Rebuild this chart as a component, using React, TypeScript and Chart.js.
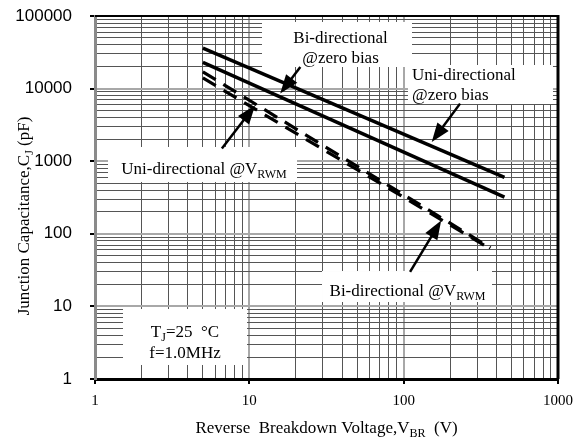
import React, { useEffect, useRef } from "react";
import { Chart, registerables } from "chart.js";

Chart.register(...registerables);

// ---- data ----
const uniZeroV = [5, 450];
const uniZeroC = [36000, 600];
const biZeroV = [5, 450];
const biZeroC = [23000, 320];
const uniRwmV = [5, 365];
const uniRwmC = [17000, 64];
const biRwmV = [5, 365];
const biRwmC = [14000, 62];

const xTickValues = [1, 10, 100, 1000];
const xTickLabels = ["1", "10", "100", "1000"];
const yTickValues = [1, 10, 100, 1000, 10000, 100000];
const yTickLabels = ["1", "10", "100", "1000", "10000", "100000"];

const SERIF = '"Liberation Serif", "Times New Roman", serif';
const SANS = '"Liberation Sans", Arial, sans-serif';
const FS = 17;

type Seg = { t: string; sub?: boolean };

// annotation labels: anchor in data units (x, y = baseline of first line)
const labels: {
  x: number; y: number; align: "left" | "center";
  lines: Seg[][]; box: [number, number, number, number]; lh: number;
}[] = [
  { x: 38.97, y: 42070, align: "center", lh: 20,
    lines: [[{ t: "Bi-directional" }], [{ t: "@zero bias" }]],
    box: [-78.5, -21.3, 150, 45] },
  { x: 113.2, y: 13345, align: "left", lh: 20,
    lines: [[{ t: "Uni-directional" }], [{ t: "@zero bias" }]],
    box: [-4, -14.5, 145, 39] },
  { x: 5.086, y: 666.6, align: "center", lh: 20,
    lines: [[{ t: "Uni-directional @V" }, { t: "RWM", sub: true }]],
    box: [-96, -27, 189, 35] },
  { x: 105.9, y: 13.9, align: "center", lh: 20,
    lines: [[{ t: "Bi-directional @V" }, { t: "RWM", sub: true }]],
    box: [-85.5, -25, 170, 31] },
  { x: 3.83, y: 3.79, align: "center", lh: 21,
    lines: [[{ t: "T" }, { t: "J", sub: true }, { t: "=25  \u00B0C" }], [{ t: "f=1.0MHz" }]],
    box: [-62, -28, 124, 56] },
];

// arrows: tail -> tip in data units
const arrows: { x0: number; y0: number; x1: number; y1: number }[] = [
  { x0: 6.64, y0: 1493, x1: 10.9, y1: 5890 },
  { x0: 21.4, y0: 19840, x1: 15.85, y1: 8530 },
  { x0: 232, y0: 6210, x1: 152, y1: 1838 },
  { x0: 110, y0: 29.8, x1: 175, y1: 153 },
];

function logGrid(min: number, max: number): number[] {
  const out: number[] = [];
  for (let d = min; d < max; d *= 10) {
    for (let m = 1; m <= 9; m++) out.push(Math.round(d * m * 1000) / 1000);
  }
  out.push(max);
  return out;
}

function isDecade(v: number): boolean {
  const l = Math.log10(v);
  return Math.abs(l - Math.round(l)) < 1e-9;
}

function segFont(s: Seg, size: number) {
  return `${s.sub ? Math.round(size * 0.72) : size}px ${SERIF}`;
}

function segsWidth(ctx: CanvasRenderingContext2D, segs: Seg[], size: number) {
  let w = 0;
  for (const s of segs) {
    ctx.font = segFont(s, size);
    w += ctx.measureText(s.t).width;
  }
  return w;
}

function drawSegs(ctx: CanvasRenderingContext2D, segs: Seg[], x: number, y: number,
  size: number, align: "left" | "center") {
  const w = segsWidth(ctx, segs, size);
  let cx = align === "center" ? x - w / 2 : x;
  ctx.textAlign = "left";
  ctx.textBaseline = "alphabetic";
  for (const s of segs) {
    ctx.font = segFont(s, size);
    ctx.fillText(s.t, cx, y + (s.sub ? size * 0.25 : 0));
    cx += ctx.measureText(s.t).width;
  }
}

function drawArrow(ctx: CanvasRenderingContext2D, x0: number, y0: number, x1: number, y1: number) {
  const dx = x1 - x0, dy = y1 - y0;
  const len = Math.hypot(dx, dy);
  const ux = dx / len, uy = dy / len;
  const hl = 19, hw = 7;
  const bx = x1 - ux * hl, by = y1 - uy * hl;
  ctx.strokeStyle = "#000";
  ctx.lineWidth = 2.5;
  ctx.beginPath();
  ctx.moveTo(x0, y0);
  ctx.lineTo(bx + ux * 2, by + uy * 2);
  ctx.stroke();
  ctx.fillStyle = "#000";
  ctx.beginPath();
  ctx.moveTo(x1, y1);
  ctx.lineTo(bx - uy * hw, by + ux * hw);
  ctx.lineTo(bx + uy * hw, by - ux * hw);
  ctx.closePath();
  ctx.fill();
}

const annotationPlugin = {
  id: "annotations",
  beforeDatasetsDraw(chart: any) {
    const { ctx } = chart;
    const xs = chart.scales.x, ys = chart.scales.y;
    ctx.save();
    for (const L of labels) {
      const ax = xs.getPixelForValue(L.x);
      const ay = ys.getPixelForValue(L.y);
      ctx.fillStyle = "#fff";
      ctx.fillRect(ax + L.box[0], ay + L.box[1], L.box[2], L.box[3]);
      ctx.fillStyle = "#000";
      L.lines.forEach((segs, i) => drawSegs(ctx, segs, ax, ay + i * L.lh, FS, L.align));
    }
    ctx.restore();
  },
  afterDatasetsDraw(chart: any) {
    const { ctx, chartArea } = chart;
    const xs = chart.scales.x, ys = chart.scales.y;
    ctx.save();
    for (const a of arrows) {
      drawArrow(ctx, xs.getPixelForValue(a.x0), ys.getPixelForValue(a.y0),
        xs.getPixelForValue(a.x1), ys.getPixelForValue(a.y1));
    }
    // top and right frame
    ctx.strokeStyle = "#000";
    ctx.lineWidth = 2;
    ctx.beginPath();
    ctx.moveTo(chartArea.left, chartArea.top);
    ctx.lineTo(chartArea.right, chartArea.top);
    ctx.stroke();
    ctx.lineWidth = 3;
    ctx.beginPath();
    ctx.moveTo(chartArea.right, chartArea.top - 1);
    ctx.lineTo(chartArea.right, chartArea.bottom);
    ctx.stroke();
    // axis titles
    ctx.fillStyle = "#000";
    drawSegs(ctx, [{ t: "Reverse  Breakdown Voltage,V" }, { t: "BR", sub: true }, { t: "  (V)" }],
      (chartArea.left + chartArea.right) / 2, 433, FS, "center");
    ctx.translate(28.5, 216);
    ctx.rotate(-Math.PI / 2);
    drawSegs(ctx, [{ t: "Junction Capacitance,C" }, { t: "J", sub: true }, { t: " (pF)" }],
      0, 0, FS, "center");
    ctx.restore();
  },
};

function line(v: number[], c: number[], dashed: boolean) {
  return {
    data: v.map((x, i) => ({ x, y: c[i] })),
    borderColor: "#000",
    borderWidth: dashed ? 3.2 : 3.5,
    borderDash: dashed ? [15, 9] : [],
    borderCapStyle: "butt" as const,
    pointRadius: 0,
    fill: false,
    tension: 0,
  };
}

const gridColor = (ctx: any) => (ctx.tick && isDecade(ctx.tick.value) ? "#a8a8a8" : "#555");
const gridWidth = (ctx: any) => (ctx.tick && isDecade(ctx.tick.value) ? 2 : 1);
const tickColor = (ctx: any) => (ctx.tick && isDecade(ctx.tick.value) ? "#000" : "rgba(0,0,0,0)");

export default function App() {
  const ref = useRef<HTMLCanvasElement>(null);
  useEffect(() => {
    document.body.style.margin = "0";
    const chart = new Chart(ref.current as HTMLCanvasElement, {
      type: "line",
      data: {
        datasets: [
          line(uniZeroV, uniZeroC, false),
          line(biZeroV, biZeroC, false),
          line(uniRwmV, uniRwmC, true),
          line(biRwmV, biRwmC, true),
        ] as any,
      },
      options: {
        responsive: false,
        animation: false,
        events: [],
        layout: { padding: { top: 16, right: 18, left: 0, bottom: 0 } },
        plugins: { legend: { display: false }, tooltip: { enabled: false } },
        scales: {
          x: {
            type: "logarithmic",
            min: 1,
            max: 1000,
            afterBuildTicks: (s: any) => {
              s.ticks = logGrid(1, 1000).map((value) => ({ value }));
            },
            afterFit: (s: any) => {
              s.height = 59;
              s.paddingLeft = 0;
              s.paddingRight = 0;
              s.paddingTop = 0;
              s.paddingBottom = 0;
            },
            ticks: {
              autoSkip: false,
              maxRotation: 0,
              padding: 8,
              color: "#000",
              font: { family: SERIF, size: 15 },
              callback: (v: any) => {
                const i = xTickValues.indexOf(Number(v));
                return i >= 0 ? xTickLabels[i] : "";
              },
            },
            grid: { color: gridColor, lineWidth: gridWidth, tickLength: 5, tickColor, tickWidth: 2 },
            border: { color: "#000", width: 3 },
          },
          y: {
            type: "logarithmic",
            min: 1,
            max: 100000,
            afterBuildTicks: (s: any) => {
              s.ticks = logGrid(1, 100000).map((value) => ({ value }));
            },
            afterFit: (s: any) => {
              s.width = 95;
              s.paddingLeft = 0;
              s.paddingRight = 0;
              s.paddingTop = 0;
              s.paddingBottom = 0;
            },
            ticks: {
              autoSkip: false,
              padding: 18,
              color: "#000",
              font: { family: SANS, size: 17 },
              callback: (v: any) => {
                const i = yTickValues.indexOf(Number(v));
                return i >= 0 ? yTickLabels[i] : "";
              },
            },
            grid: { color: gridColor, lineWidth: gridWidth, tickLength: 5, tickColor, tickWidth: 2 },
            border: { color: "#8a8a8a", width: 3 },
          },
        },
      } as any,
      plugins: [annotationPlugin],
    });
    return () => chart.destroy();
  }, []);
  return (
    <div style={{ width: 576, height: 438, position: "relative" }}>
      <canvas ref={ref} width={576} height={438} style={{ display: "block" }} />
    </div>
  );
}
